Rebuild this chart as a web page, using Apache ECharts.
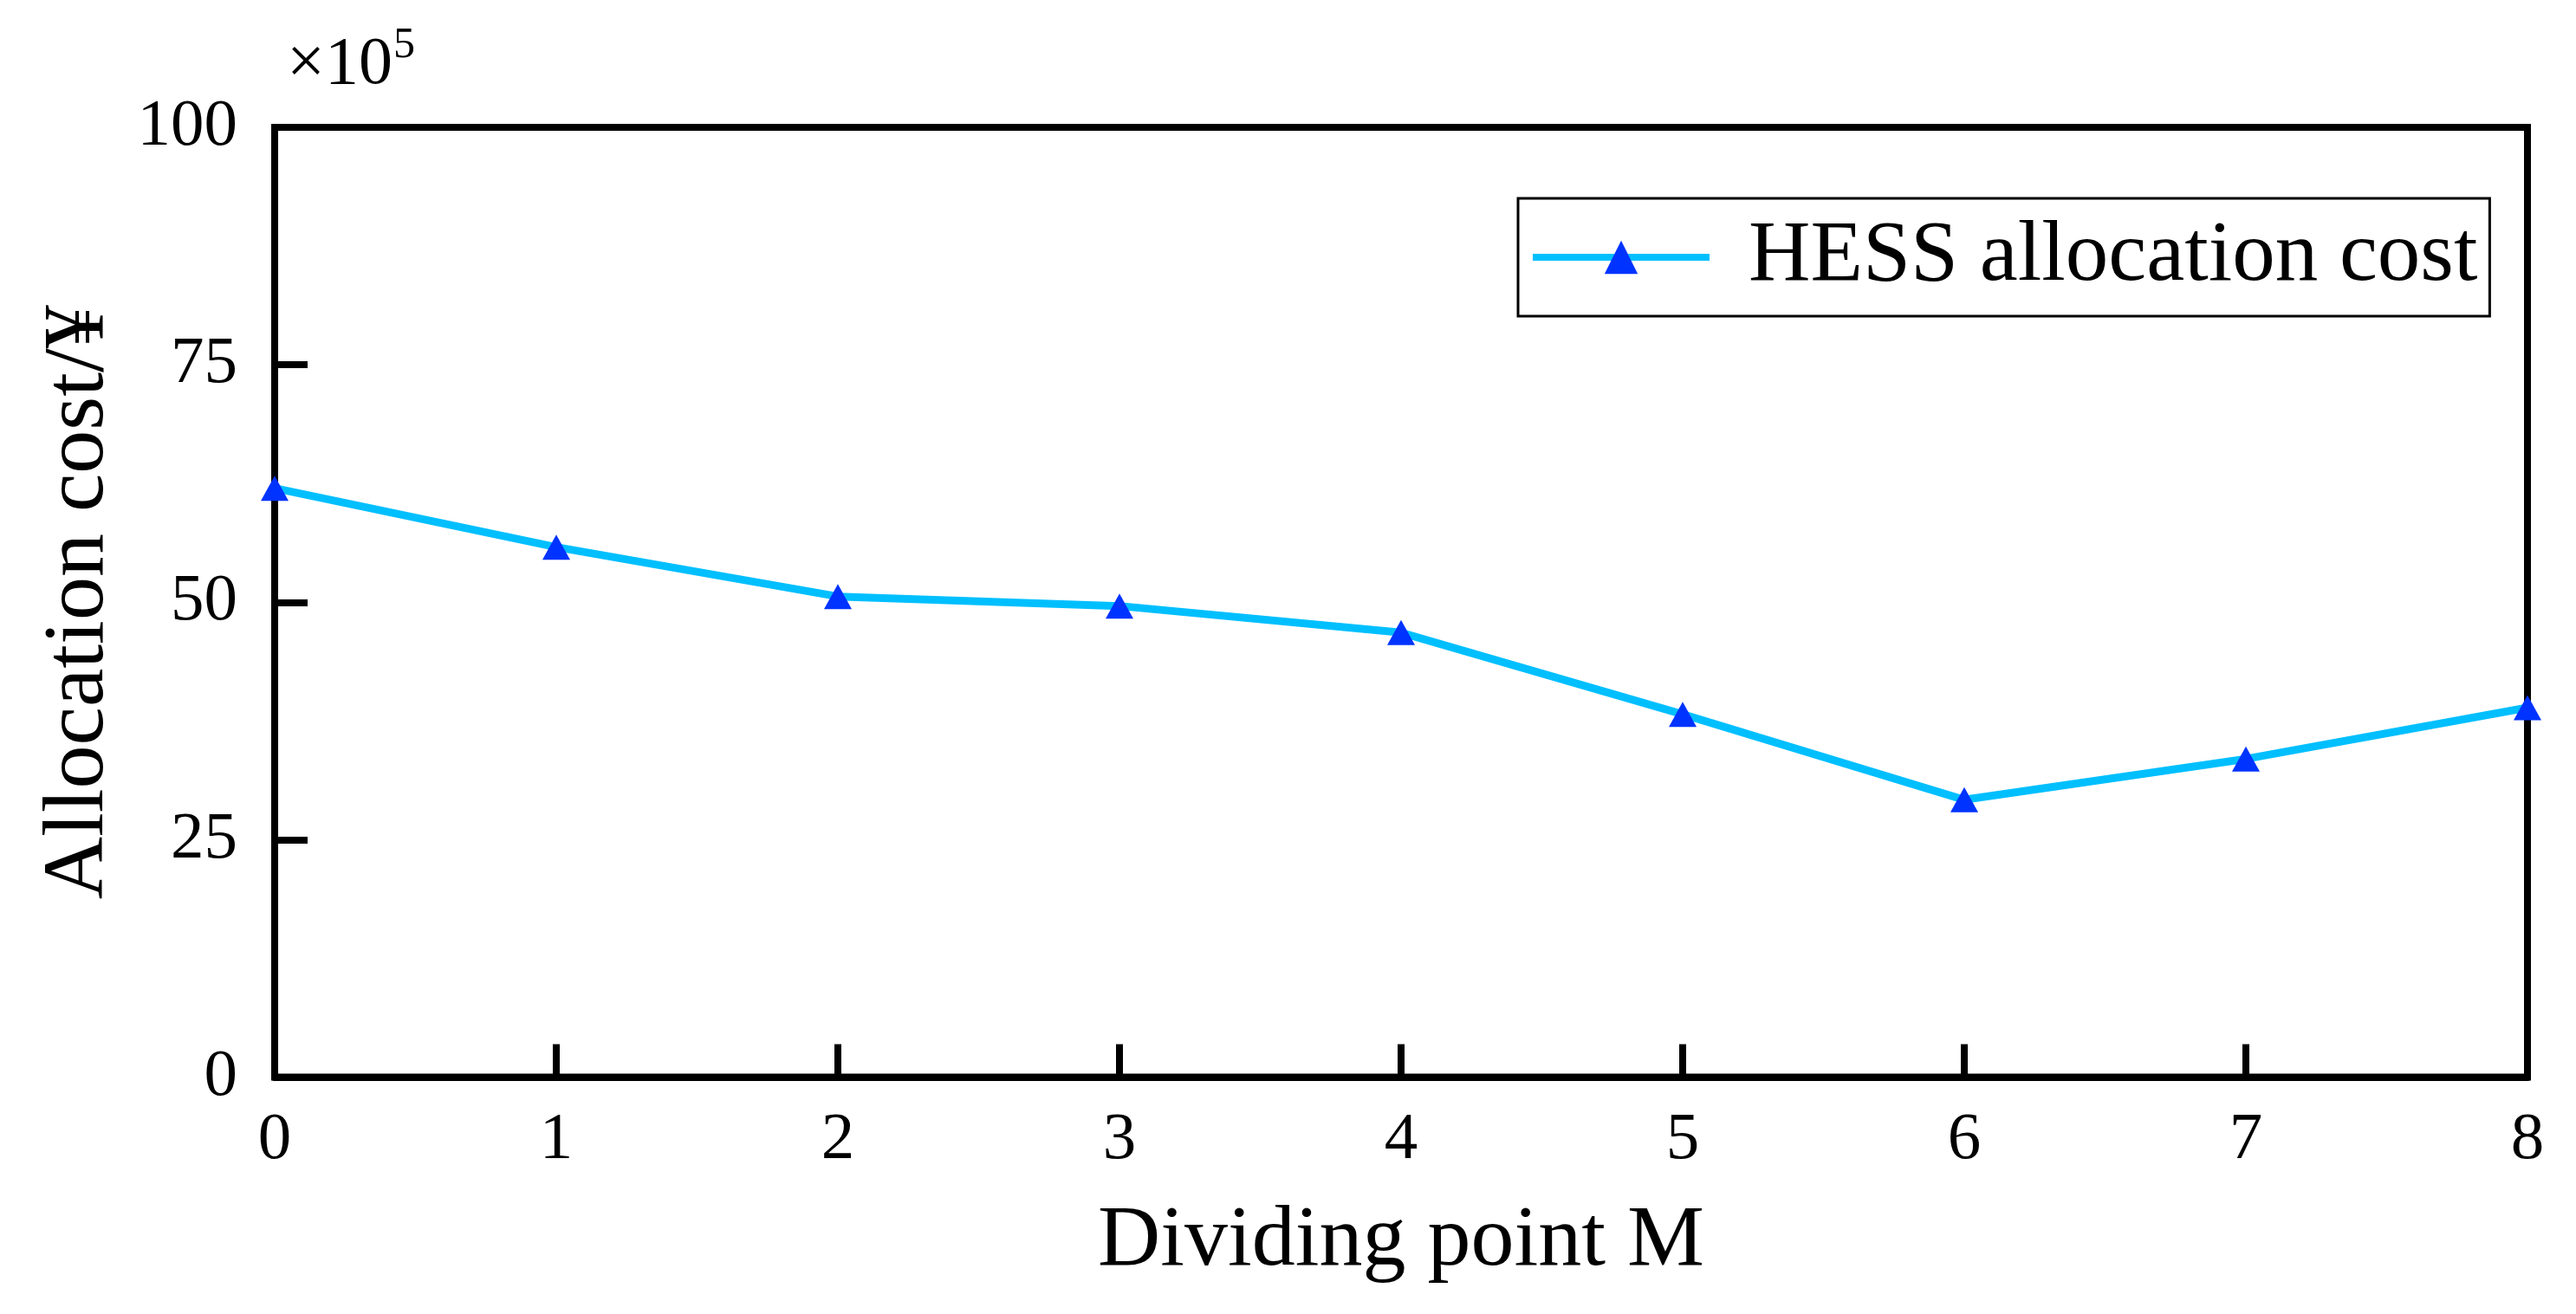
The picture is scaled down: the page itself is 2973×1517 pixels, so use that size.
<!DOCTYPE html>
<html>
<head>
<meta charset="utf-8">
<script src="https://cdn.jsdelivr.net/npm/echarts@6/dist/echarts.min.js"></script>
<style>
html,body{margin:0;padding:0;background:#fff;}
#chart{width:2973px;height:1517px;}
</style>
</head>
<body>
<div id="chart"></div>
<script>
// Data (cost in units of 10^5 ¥)
const categories = ['0','1','2','3','4','5','6','7','8'];
const costValues = [62.0, 55.8, 50.6, 49.6, 46.8, 38.2, 29.2, 33.5, 38.9];
const yTicks = [0, 25, 50, 75, 100];
const seriesName = 'HESS allocation cost';
const xTitle = 'Dividing point M';
const yTitle = 'Allocation cost/¥';

const FONT = "'Liberation Serif','Times New Roman',serif";
const chart = echarts.init(document.getElementById('chart'), null, {renderer:'canvas'});

const option = {
  backgroundColor: '#ffffff',
  animation: false,
  grid: {
    left: 317, right: 56, top: 147, bottom: 273.5,
    show: true, borderColor: '#000', borderWidth: 8, backgroundColor: 'transparent'
  },
  legend: {
    left: 1752, top: 229,
    orient: 'horizontal',
    borderColor: '#000', borderWidth: 3,
    padding: [18, 14, 18, 13],
    itemWidth: 204, itemHeight: 48,
    lineStyle: {width: 8, color: '#00BFFF'},
    textStyle: {fontFamily: FONT, fontSize: 99, color: '#000', padding: [0,0,0,40], lineHeight: 100},
    data: [seriesName]
  },
  xAxis: {
    type: 'category',
    data: categories,
    boundaryGap: false,
    name: xTitle,
    nameLocation: 'middle',
    nameGap: 140,
    nameTextStyle: {fontFamily: FONT, fontSize: 100, color: '#000'},
    axisLine: {show: true, lineStyle: {color: '#000', width: 8}},
    axisTick: {show: true, inside: true, length: 38, alignWithLabel: true, lineStyle: {color: '#000', width: 8}},
    axisLabel: {fontFamily: FONT, fontSize: 77, color: '#000', margin: 35},
    splitLine: {show: false}
  },
  yAxis: {
    type: 'value',
    min: yTicks[0], max: yTicks[yTicks.length-1], interval: 25,
    name: yTitle,
    nameLocation: 'middle',
    nameRotate: 90,
    nameGap: 175,
    nameTextStyle: {fontFamily: FONT, fontSize: 100, color: '#000'},
    axisLine: {show: true, lineStyle: {color: '#000', width: 8}},
    axisTick: {show: true, inside: true, length: 38, lineStyle: {color: '#000', width: 8}},
    axisLabel: {fontFamily: FONT, fontSize: 77, color: '#000', margin: 43},
    splitLine: {show: false}
  },
  graphic: [
    {type: 'text', left: 331, top: 37, style: {text: '×10', font: "78px 'Liberation Serif','Times New Roman',serif", fill: '#000'}},
    {type: 'text', left: 454, top: 28, style: {text: '5', font: "50px 'Liberation Serif','Times New Roman',serif", fill: '#000'}}
  ],
  series: [{
    name: seriesName,
    type: 'line',
    data: costValues,
    symbol: 'triangle',
    symbolSize: [32, 29],
    showAllSymbol: true,
    clip: true,
    lineStyle: {color: '#00BFFF', width: 9},
    itemStyle: {color: '#0033FF', borderWidth: 0}
  }]
};
chart.setOption(option);
</script>
</body>
</html>
